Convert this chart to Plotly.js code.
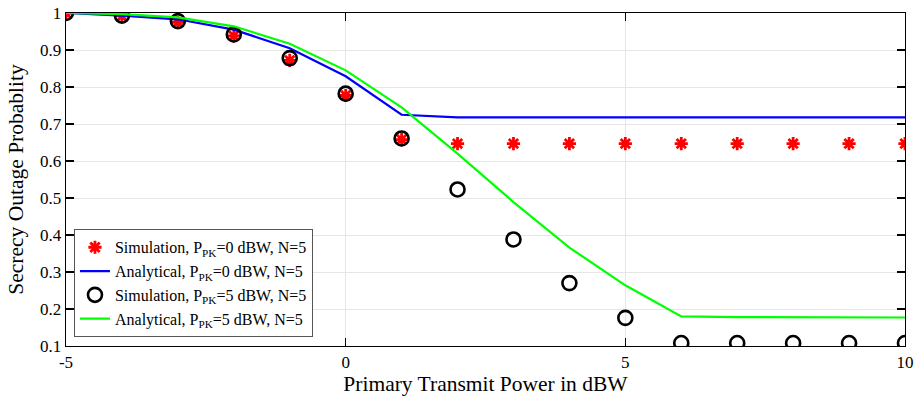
<!DOCTYPE html>
<html>
<head>
<meta charset="utf-8">
<script src="https://cdn.plot.ly/plotly-3.0.1.min.js"></script>
<style>html,body{margin:0;padding:0;background:#fff;}#chart{width:921px;height:406px;}</style>
</head>
<body>
<div id="chart"></div>
<script>
// Data
const xPower = [-5, -4, -3, -2, -1, 0, 1, 2, 3, 4, 5, 6, 7, 8, 9, 10];
const simP0 = [1.0, 0.992, 0.975, 0.938, 0.872, 0.777, 0.658, 0.647, 0.647, 0.647, 0.647, 0.647, 0.647, 0.647, 0.647, 0.647];
const anaP0 = [1.0, 0.993, 0.983, 0.955, 0.905, 0.829, 0.725, 0.718, 0.718, 0.718, 0.718, 0.718, 0.718, 0.718, 0.718, 0.718];
const simP5 = [1.0, 0.993, 0.978, 0.942, 0.878, 0.782, 0.661, 0.523, 0.388, 0.270, 0.176, 0.108, 0.108, 0.108, 0.108, 0.108];
const anaP5 = [1.0, 0.997, 0.988, 0.964, 0.917, 0.845, 0.745, 0.620, 0.489, 0.366, 0.264, 0.180, 0.178, 0.178, 0.177, 0.177];
const legendNames = [
  "Simulation, P<sub>PK</sub>=0 dBW, N=5",
  "Analytical, P<sub>PK</sub>=0 dBW, N=5",
  "Simulation, P<sub>PK</sub>=5 dBW, N=5",
  "Analytical, P<sub>PK</sub>=5 dBW, N=5"
];
const xTicks = [-5, 0, 5, 10];
const yTicks = [0.1, 0.2, 0.3, 0.4, 0.5, 0.6, 0.7, 0.8, 0.9, 1];
const yTickText = ["0.1", "0.2", "0.3", "0.4", "0.5", "0.6", "0.7", "0.8", "0.9", "1"];

const traces = [
  {x: xPower, y: simP0, name: legendNames[0], mode: "markers", type: "scatter",
   marker: {symbol: "asterisk-open", size: 11, color: "#ff0000", line: {color: "#ff0000", width: 2.8}}},
  {x: xPower, y: anaP0, name: legendNames[1], mode: "lines", type: "scatter",
   line: {color: "#0000ff", width: 2.2}},
  {x: xPower, y: simP5, name: legendNames[2], mode: "markers", type: "scatter",
   marker: {symbol: "circle-open", size: 14, color: "#000000", line: {color: "#000000", width: 2.6}}},
  {x: xPower, y: anaP5, name: legendNames[3], mode: "lines", type: "scatter",
   line: {color: "#00ff00", width: 2.2}}
];

const font = "Liberation Serif, Times New Roman, serif";
const layout = {
  width: 921, height: 406,
  margin: {l: 66, r: 16, t: 13, b: 60},
  paper_bgcolor: "#ffffff", plot_bgcolor: "#ffffff",
  font: {family: font, size: 17, color: "#000"},
  showlegend: true,
  legend: {x: 0.0095, y: 0.026, xanchor: "left", yanchor: "bottom",
    bgcolor: "#ffffff", bordercolor: "#555555", borderwidth: 1,
    font: {family: font, size: 16, color: "#000"}, tracegroupgap: 0, itemwidth: 30},
  xaxis: {range: [-5, 10], tickvals: xTicks, ticktext: xTicks.map(String),
    showgrid: true, gridcolor: "#e6e6e6", gridwidth: 1,
    showline: true, linecolor: "#000", linewidth: 1.3, mirror: "ticks",
    ticks: "inside", ticklen: 8, tickcolor: "#000", tickwidth: 1.3, zeroline: false,
    tickfont: {family: font, size: 17, color: "#000"},
    title: {text: "Primary Transmit Power in dBW", font: {family: font, size: 21.5, color: "#000"}, standoff: 0}},
  yaxis: {range: [0.1, 1], tickvals: yTicks, ticktext: yTickText,
    showgrid: true, gridcolor: "#e6e6e6", gridwidth: 1,
    showline: true, linecolor: "#000", linewidth: 1.3, mirror: "ticks",
    ticks: "inside", ticklen: 8, tickcolor: "#000", tickwidth: 1.3, zeroline: false,
    tickfont: {family: font, size: 17, color: "#000"},
    title: {text: "Secrecy Outage Probablity", font: {family: font, size: 21.5, color: "#000"}, standoff: 10}}
};

Plotly.newPlot("chart", traces, layout, {displayModeBar: false, staticPlot: true});
</script>
</body>
</html>
